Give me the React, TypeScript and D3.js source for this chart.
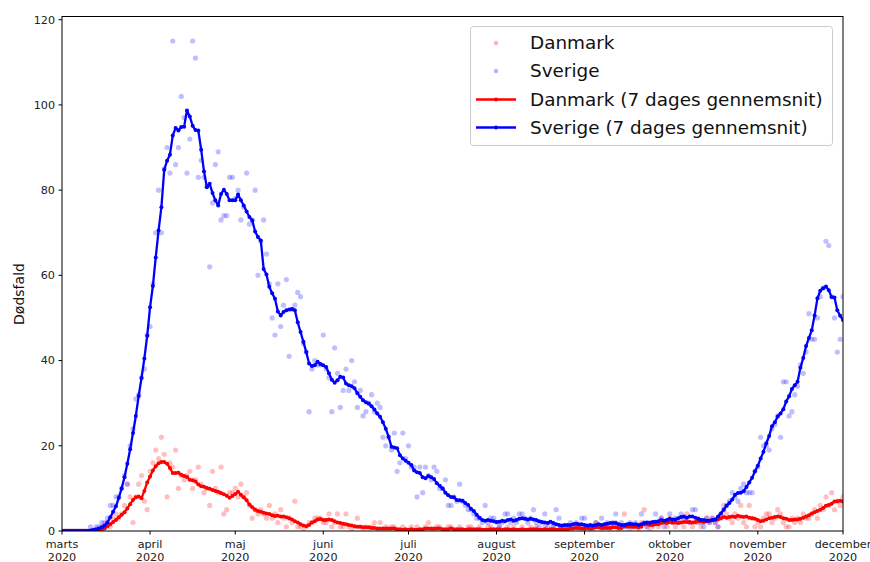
import React from 'react';
import * as d3 from 'd3';

// daily deaths from 1 March 2020 (index 0) to 1 December 2020 (index 275)
const seDaily = [
  0, 0, 0, 0, 0, 0, 0, 0, 0, 0,
  1, 0, 1, 1, 2, 2, 3, 6, 6, 8,
  8, 10, 13, 11, 20, 24, 31, 32, 36, 38,
  46, 48, 58, 70, 80, 70, 85, 90, 84, 115,
  86, 90, 102, 97, 84, 92, 115, 111, 83, 87,
  83, 81, 62, 77, 86, 89, 73, 74, 74, 83,
  83, 78, 80, 73, 76, 84, 72, 73, 80, 60,
  68, 73, 65, 58, 50, 46, 58, 48, 53, 59,
  41, 52, 53, 56, 55, 44, 42, 28, 38, 40,
  39, 39, 46, 38, 36, 28, 43, 37, 29, 33,
  38, 33, 40, 35, 29, 33, 27, 28, 30, 32,
  28, 30, 29, 22, 20, 22, 19, 23, 14, 16,
  23, 17, 20, 15, 15, 8, 15, 9, 15, 13,
  12, 15, 14, 10, 10, 12, 6, 6, 8, 7,
  11, 7, 6, 5, 5, 4, 3, 3, 2, 6,
  2, 3, 3, 2, 1, 2, 4, 4, 2, 3,
  2, 4, 4, 3, 2, 3, 5, 2, 1, 2,
  4, 1, 2, 1, 5, 3, 1, 0, 1, 2,
  1, 2, 1, 3, 3, 1, 0, 1, 2, 1,
  3, 1, 2, 1, 2, 4, 1, 2, 1, 1,
  2, 1, 2, 1, 4, 2, 1, 2, 2, 4,
  2, 3, 1, 2, 4, 2, 3, 2, 4, 3,
  3, 2, 5, 5, 2, 2, 1, 3, 2, 3,
  2, 1, 4, 5, 6, 7, 9, 8, 7, 10,
  11, 9, 9, 9, 14, 15, 22, 20, 20, 19,
  24, 25, 27, 22, 35, 35, 27, 28, 32, 34,
  39, 37, 42, 51, 45, 45, 50, 55, 57, 68,
  67, 55, 50, 42, 45, 55,
];

const dkDaily = [
  0, 0, 0, 0, 0, 0, 0, 0, 0, 0,
  0, 0, 0, 0, 1, 1, 2, 1, 3, 4,
  3, 4, 6, 11, 8, 2, 8, 11, 13, 7,
  5, 14, 16, 19, 17, 22, 18, 8, 16, 15,
  19, 10, 13, 12, 13, 14, 10, 12, 15, 11,
  9, 10, 6, 14, 10, 9, 15, 4, 5, 9,
  9, 10, 8, 11, 8, 9, 6, 3, 5, 4,
  5, 4, 3, 6, 3, 4, 2, 5, 3, 1,
  3, 2, 7, 1, 1, 0, 1, 2, 2, 3,
  3, 3, 2, 2, 4, 1, 2, 4, 1, 1,
  4, 1, 0, 1, 3, 1, 0, 1, 0, 1,
  2, 0, 2, 0, 1, 0, 1, 1, 0, 0,
  1, 0, 0, 1, 0, 1, 0, 0, 1, 2,
  0, 0, 1, 1, 0, 0, 1, 1, 0, 0,
  1, 0, 0, 1, 1, 0, 0, 1, 0, 0,
  1, 1, 0, 0, 1, 0, 0, 1, 0, 1,
  0, 0, 1, 0, 0, 1, 0, 1, 0, 0,
  1, 0, 0, 1, 0, 0, 1, 0, 1, 0,
  1, 1, 0, 1, 0, 1, 1, 0, 2, 1,
  0, 1, 1, 0, 1, 2, 0, 1, 4, 1,
  0, 1, 1, 0, 2, 5, 1, 0, 1, 2,
  1, 3, 2, 1, 3, 2, 1, 2, 3, 1,
  4, 2, 1, 2, 3, 1, 2, 3, 2, 3,
  2, 1, 3, 6, 4, 3, 2, 4, 3, 6,
  2, 1, 6, 3, 1, 2, 1, 3, 4, 4,
  2, 3, 5, 4, 2, 1, 1, 3, 2, 3,
  2, 4, 3, 3, 4, 5, 3, 6, 5, 8,
  6, 9, 5, 7, 6, 8,
];

// 7 dages gennemsnit
const seAvg = [
  0, 0, 0, 0, 0, 0, 0, 0, 0, 0,
  0.1, 0.3, 0.4, 0.6, 0.9, 1.3, 2.0, 3.2, 4.5, 5.8,
  7.8, 10.0, 12.6, 15.8, 19.2, 23.0, 27.0, 31.7, 35.9, 40.5,
  45.8, 52.5, 57.5, 64.2, 70.5, 76.0, 84.8, 86.9, 88.3, 92.8,
  94.6, 94.0, 94.8, 94.9, 98.7, 97.3, 95.1, 94.1, 94.0, 89.5,
  84.4, 80.7, 81.5, 79.3, 77.6, 76.4, 79.1, 80.1, 79.1, 77.6,
  77.6, 77.6, 79.0, 77.6, 76.4, 75.0, 73.7, 72.9, 70.3, 69.0,
  68.2, 61.5, 60.2, 57.3, 55.8, 54.5, 51.5, 50.6, 51.4, 51.8,
  52.0, 52.1, 51.8, 49.0, 46.7, 44.4, 42.0, 39.3, 38.7, 38.9,
  39.7, 39.2, 38.9, 38.5, 37.0, 35.5, 34.8, 35.4, 36.2, 36.0,
  34.6, 34.2, 34.0, 33.5, 32.3, 31.5, 30.7, 30.2, 29.9, 29.3,
  28.5, 27.6, 26.8, 25.5, 24.0, 22.1, 19.8, 19.6, 19.4, 17.8,
  17.0, 16.5, 16.0, 15.5, 14.2, 13.8, 13.6, 12.6, 12.4, 12.9,
  12.6, 12.2, 11.2, 10.6, 10.0, 9.0, 8.4, 8.0, 7.9, 7.3,
  7.2, 7.1, 6.6, 6.1, 5.2, 4.7, 3.8, 3.1, 2.6, 2.4,
  2.6, 2.4, 2.3, 2.1, 2.2, 2.4, 2.3, 2.6, 2.7, 2.4,
  2.6, 2.9, 3.0, 2.9, 2.7, 2.9, 2.7, 2.6, 2.3, 2.1,
  2.0, 1.9, 2.2, 1.9, 1.6, 1.4, 1.3, 1.4, 1.4, 1.4,
  1.6, 1.7, 1.6, 1.6, 1.4, 1.3, 1.4, 1.3, 1.4, 1.6,
  1.4, 1.6, 1.7, 1.9, 1.9, 1.9, 1.6, 1.4, 1.4, 1.6,
  1.7, 1.6, 1.6, 1.4, 1.6, 1.9, 2.0, 1.9, 2.1, 2.2,
  2.3, 2.6, 2.4, 2.6, 2.9, 2.7, 2.7, 3.0, 3.3, 3.4,
  3.1, 3.4, 3.4, 3.1, 2.9, 2.6, 2.6, 2.4, 2.4, 2.6,
  2.7, 3.4, 4.1, 5.0, 5.9, 6.6, 7.4, 8.5, 8.9, 9.0,
  9.3, 10.3, 11.4, 12.5, 14.0, 15.3, 17.0, 18.6, 20.6, 22.3,
  24.6, 25.5, 26.9, 27.6, 28.6, 30.4, 31.6, 33.3, 34.2, 35.0,
  38.3, 40.6, 43.4, 45.3, 47.1, 50.6, 54.6, 56.4, 57.0, 57.4,
  56.5, 54.9, 54.8, 51.8, 50.5, 49.5,
];

const dkAvg = [
  0, 0, 0, 0, 0, 0, 0, 0, 0, 0,
  0, 0, 0, 0, 0.3, 0.6, 1.1, 1.6, 2.1, 2.6,
  3.2, 3.8, 4.4, 5.3, 6.3, 7.3, 7.9, 8.1, 7.7, 9.4,
  11.4, 12.8, 14.2, 15.2, 15.9, 16.2, 16.2, 15.8, 14.8, 13.6,
  13.6, 13.7, 13.2, 12.9, 12.7, 12.0, 11.9, 11.6, 10.9, 10.5,
  10.4, 10.1, 9.9, 9.6, 9.4, 9.2, 8.9, 8.6, 8.3, 7.8,
  8.2, 8.7, 9.2, 8.5, 7.9, 7.2, 6.2, 5.6, 5.0, 4.7,
  4.5, 4.3, 4.1, 4.0, 3.7, 3.5, 3.6, 3.4, 3.4, 3.2,
  3.0, 2.7, 2.3, 2.0, 1.6, 1.3, 1.1, 1.4, 2.0, 2.3,
  2.7, 2.8, 2.6, 2.6, 2.7, 2.6, 2.3, 2.0, 1.9, 1.7,
  1.6, 1.4, 1.3, 1.1, 1.0, 1.0, 0.9, 0.9, 0.9, 0.7,
  0.7, 0.6, 0.6, 0.6, 0.6, 0.6, 0.6, 0.6, 0.4, 0.4,
  0.3, 0.4, 0.3, 0.4, 0.3, 0.3, 0.4, 0.4, 0.6, 0.6,
  0.6, 0.6, 0.6, 0.6, 0.4, 0.4, 0.4, 0.6, 0.4, 0.4,
  0.4, 0.4, 0.3, 0.4, 0.4, 0.4, 0.4, 0.4, 0.3, 0.3,
  0.3, 0.4, 0.4, 0.4, 0.4, 0.3, 0.4, 0.4, 0.3, 0.4,
  0.3, 0.3, 0.4, 0.3, 0.3, 0.4, 0.4, 0.4, 0.3, 0.3,
  0.4, 0.3, 0.4, 0.4, 0.3, 0.4, 0.4, 0.4, 0.4, 0.6,
  0.6, 0.7, 0.7, 0.6, 0.6, 0.7, 0.6, 0.7, 0.9, 0.9,
  0.7, 0.7, 0.7, 0.7, 0.9, 0.9, 0.7, 0.7, 1.1, 1.1,
  1.0, 1.0, 1.0, 0.9, 1.0, 1.6, 1.6, 1.4, 1.4, 1.6,
  1.6, 1.9, 2.0, 1.9, 2.1, 2.0, 2.0, 1.9, 2.0, 2.1,
  2.1, 2.1, 2.0, 2.1, 2.3, 2.3, 2.1, 2.3, 2.4, 2.6,
  2.6, 2.7, 3.0, 3.3, 3.1, 3.3, 3.4, 3.3, 3.6, 3.4,
  3.3, 3.4, 3.1, 3.0, 2.9, 2.6, 2.3, 2.4, 2.7, 3.0,
  3.1, 3.3, 3.4, 3.3, 3.0, 2.9, 2.6, 2.6, 2.7, 2.7,
  2.9, 3.1, 3.4, 3.7, 4.1, 4.4, 4.7, 5.0, 5.4, 5.9,
  6.1, 6.4, 6.9, 7.0, 7.1, 6.9,
];

const monthNames = ['marts', 'april', 'maj', 'juni', 'juli', 'august', 'september', 'oktober', 'november', 'december'];
const yTicks = [0, 20, 40, 60, 80, 100, 120];
const legendLabels = ['Danmark', 'Sverige', 'Danmark (7 dages gennemsnit)', 'Sverige (7 dages gennemsnit)'];

const W = 870;
const H = 562;
const m = { left: 62, right: 843, top: 16.5, bottom: 531 };
const font = 'DejaVu Sans, sans-serif';

const start = new Date(2020, 2, 1);
const dates = seDaily.map((_, i) => d3.timeDay.offset(start, i));

const App = () => {
  const x = d3.scaleTime().domain([start, new Date(2020, 11, 1)]).range([m.left, m.right]);
  const y = d3.scaleLinear().domain([0, 120.75]).range([m.bottom, m.top]);
  const line = d3.line<number>().x((d, i) => x(dates[i])).y(d => y(d));
  const monthTicks = d3.timeMonth.range(start, new Date(2020, 11, 2));

  const dots = (arr: number[], color: string) =>
    arr.map((v, i) => <circle key={i} cx={x(dates[i])} cy={y(v)} r={2.6} fill={color} fillOpacity={0.25} />);

  const avgLine = (arr: number[], color: string) => (
    <g>
      <path d={line(arr) || ''} fill="none" stroke={color} strokeWidth={2.3} strokeLinejoin="round" />
      {arr.map((v, i) => <circle key={i} cx={x(dates[i])} cy={y(v)} r={2} fill={color} />)}
    </g>
  );

  const legendY = [43, 71, 99.5, 127.5];

  return (
    <svg width={W} height={H} style={{ position: 'absolute', left: 0, top: 0, background: '#fff' }} fontFamily={font}>
      <defs>
        <clipPath id="plot">
          <rect x={m.left} y={m.top} width={m.right - m.left} height={m.bottom - m.top} />
        </clipPath>
      </defs>
      <g clipPath="url(#plot)">
        {dots(dkDaily, '#ff0000')}
        {dots(seDaily, '#0000ff')}
        {avgLine(dkAvg, '#ff0000')}
        {avgLine(seAvg, '#0000ff')}
      </g>
      <rect x={m.left} y={m.top} width={m.right - m.left} height={m.bottom - m.top} fill="none" stroke="#000" strokeWidth={1} />

      {yTicks.map(t => (
        <g key={t} transform={`translate(0,${y(t)})`}>
          <line x1={m.left - 3.5} x2={m.left} stroke="#000" />
          <text x={m.left - 7} dy="0.35em" textAnchor="end" fontSize={11.2} fill="#222">{t}</text>
        </g>
      ))}
      {monthTicks.map((d, i) => (
        <g key={i} transform={`translate(${x(d)},0)`}>
          <line y1={m.bottom} y2={m.bottom + 3.5} stroke="#000" />
          <text y={m.bottom + 17} textAnchor="middle" fontSize={11.2} fill="#222">{monthNames[i]}</text>
          <text y={m.bottom + 30} textAnchor="middle" fontSize={11.2} fill="#222">2020</text>
        </g>
      ))}
      <text transform={`translate(24,294) rotate(-90)`} textAnchor="middle" fontSize={14} fill="#111">Dødsfald</text>

      <rect x={470.5} y={26.5} width={362} height={119} rx={3} fill="#fff" fillOpacity={0.8} stroke="#ccc" />
      {legendLabels.map((label, i) => {
        const color = i % 2 === 0 ? '#ff0000' : '#0000ff';
        const ly = legendY[i];
        return (
          <g key={label}>
            {i < 2 ? (
              <circle cx={496} cy={ly} r={2.2} fill={color} fillOpacity={0.3} />
            ) : (
              <g>
                <line x1={476} x2={516} y1={ly} y2={ly} stroke={color} strokeWidth={2.3} />
                <circle cx={496} cy={ly} r={2} fill={color} />
              </g>
            )}
            <text x={530} y={ly} dy="0.35em" fontSize={18.4} fill="#111">{label}</text>
          </g>
        );
      })}
    </svg>
  );
};

export default App;
